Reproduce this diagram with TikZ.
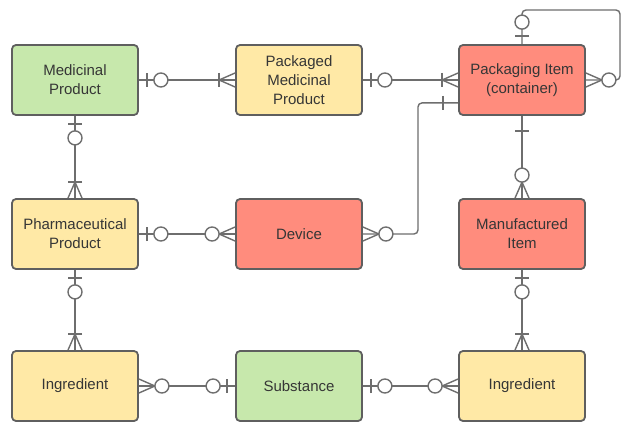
\documentclass[tikz,border=0pt]{standalone}
\usepackage{fontspec}
\setmainfont{Liberation Sans}
\definecolor{boxgreen}{HTML}{C7E8AC}
\definecolor{boxyellow}{HTML}{FFE9A6}
\definecolor{boxred}{HTML}{FF8C7D}
\definecolor{edgegray}{HTML}{5F5F5F}
\definecolor{linkgray}{HTML}{6E6E6E}
\definecolor{txtgray}{HTML}{363636}
\tikzset{
  entity/.style={draw=edgegray, line width=1.8pt, rounded corners=4pt,
    minimum width=126pt, minimum height=70pt, inner sep=2pt, align=center,
    text=txtgray, font=\fontsize{15}{19}\selectfont},
  link/.style={draw=linkgray, line width=1.4pt, line join=round},
}
% ends of a relationship line, #1 = point on the box, #2 = outward angle
\newcommand{\markone}[2]{\begin{scope}[shift={(#1)},rotate=#2]
    \draw[link] (15,-7) -- (15,7);
  \end{scope}}
\newcommand{\markzeroone}[2]{\begin{scope}[shift={(#1)},rotate=#2]
    \draw[link] (8,-7) -- (8,7);
    \draw[link,fill=white] (22,0) circle (7);
  \end{scope}}
\newcommand{\markonemany}[2]{\begin{scope}[shift={(#1)},rotate=#2]
    \draw[link] (0,7) -- (16,0) -- (0,-7);
    \draw[link] (16,-7) -- (16,7);
  \end{scope}}
\newcommand{\markzeromany}[2]{\begin{scope}[shift={(#1)},rotate=#2]
    \draw[link] (0,7) -- (16,0) -- (0,-7);
    \draw[link,fill=white] (23,0) circle (7);
  \end{scope}}

\begin{document}
\begin{tikzpicture}[x=1pt, y=1pt]
    \fill[white] (0,0) rectangle (624,424);
    \useasboundingbox (0,0) rectangle (624,424);

    \foreach \n/\x/\y/\c/\t in {
        med/75/344/boxgreen/{Medicinal\\Product},
        pkg/299/344/boxyellow/{Packaged\\Medicinal\\Product},
        pki/522/344/boxred/{Packaging Item\\(container)},
        pha/75/190/boxyellow/{Pharmaceutical\\Product},
        dev/299/190/boxred/{Device},
        man/522/190/boxred/{Manufactured\\Item},
        ing1/75/38/boxyellow/{Ingredient},
        sub/299/38/boxgreen/{Substance},
        ing2/522/38/boxyellow/{Ingredient}}
        \node[entity, fill=\c] (\n) at (\x, \y) {\t};

    \coordinate (loop) at (620, 414);
    \coordinate (pkiside) at ([yshift=13pt]pki.south west);
    \coordinate (jog) at (418, 190);

    % lines
    \draw[link] (med.east) -- (pkg.west);
    \draw[link] (pkg.east) -- (pki.west);
    \draw[link, rounded corners=4pt] (pki.north) |- (loop) |- (pki.east);
    \draw[link, rounded corners=4pt] (pkiside) -| (jog) -- (dev.east);
    \draw[link] (pki.south) -- (man.north);
    \draw[link] (med.south) -- (pha.north);
    \draw[link] (pha.east) -- (dev.west);
    \draw[link] (pha.south) -- (ing1.north);
    \draw[link] (ing1.east) -- (sub.west);
    \draw[link] (sub.east) -- (ing2.west);
    \draw[link] (man.south) -- (ing2.north);

    % ends
    \markzeroone{med.east}{0}
    \markonemany{pkg.west}{180}
    \markzeroone{pkg.east}{0}
    \markonemany{pki.west}{180}
    \markzeroone{pki.north}{90}
    \markzeromany{pki.east}{0}
    \markone{pkiside}{180}
    \markzeromany{dev.east}{0}
    \markone{pki.south}{270}
    \markzeromany{man.north}{90}
    \markzeroone{med.south}{270}
    \markonemany{pha.north}{90}
    \markzeroone{pha.east}{0}
    \markzeromany{dev.west}{180}
    \markzeroone{pha.south}{270}
    \markonemany{ing1.north}{90}
    \markzeromany{ing1.east}{0}
    \markzeroone{sub.west}{180}
    \markzeroone{sub.east}{0}
    \markzeromany{ing2.west}{180}
    \markzeroone{man.south}{270}
    \markonemany{ing2.north}{90}
\end{tikzpicture}
\end{document}
